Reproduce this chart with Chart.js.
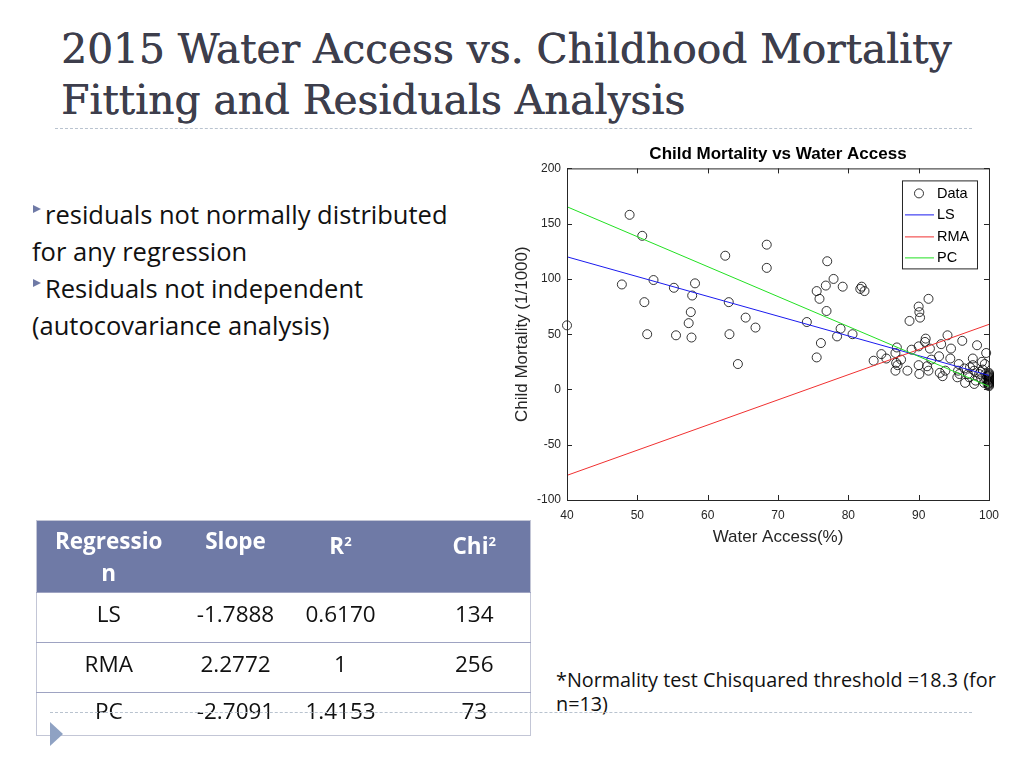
<!DOCTYPE html>
<html>
<head>
<meta charset="utf-8">
<script src="https://cdn.jsdelivr.net/npm/chart.js@4/dist/chart.umd.min.js"></script>
<style>
  body { margin: 0; width: 1024px; height: 768px; background: #fff; position: relative; overflow: hidden; }
  .slide-title { position: absolute; left: 61px; top: 24px; margin: 0; font-family: "DejaVu Serif", serif; font-weight: normal; font-size: 40.7px; line-height: 51px; color: #3d3e4c; white-space: nowrap; text-shadow: 0.5px 0 0 #3d3e4c; }
  .rule { position: absolute; height: 0; border-top: 1px dashed #b9c3cf; }
  .bullets { position: absolute; left: 32px; top: 196px; width: 440px; font-family: "Open Sans", "Noto Sans", sans-serif; font-size: 25.5px; line-height: 37px; color: #111; }
  .bullets p { margin: 0; }
  .bullets p::before { content: ""; display: inline-block; width: 0; height: 0; border-left: 8px solid #6f7aa6; border-top: 4.5px solid transparent; border-bottom: 4.5px solid transparent; vertical-align: 11px; margin: 0 4px 0 1px; }
  #chartBox { position: absolute; left: 505px; top: 140px; width: 502px; height: 420px; }
  table { position: absolute; left: 36px; top: 520px; width: 494px; table-layout: fixed; border-collapse: collapse; font-family: "Open Sans", "Noto Sans", sans-serif; font-size: 22.5px; border: 1px solid #c3c6d6; }
  th, td { box-sizing: border-box; }
  th { background: #6f7aa6; color: #fff; font-weight: bold; vertical-align: top; line-height: 32px; padding: 4px 0 3px 0; height: 72px; }
  td { text-align: center; color: #111; border-top: 1px solid #9ea3c2; padding: 0 0 8px 0; }
  sup { font-size: 13px; vertical-align: 8px; }
  .note { position: absolute; left: 556px; top: 668px; font-family: "Open Sans", "Noto Sans", sans-serif; font-size: 19.8px; line-height: 24px; color: #111; white-space: nowrap; }
  .arrow { position: absolute; left: 50px; top: 722px; width: 0; height: 0; border-left: 13px solid #8fa2c3; border-top: 12px solid transparent; border-bottom: 12px solid transparent; }
</style>
</head>
<body>
<h1 class="slide-title">2015 Water Access vs. Childhood Mortality<br>Fitting and Residuals Analysis</h1>
<div class="rule" style="left:55px; top:128px; width:917px;"></div>

<div class="bullets">
  <p>residuals not normally distributed for any regression</p>
  <p>Residuals not independent (autocovariance analysis)</p>
</div>

<div id="chartBox"><canvas id="fitChart" width="502" height="420"></canvas></div>

<table>
  <tr>
    <th style="width:144px;">Regressio<br>n</th>
    <th style="width:110px;">Slope</th>
    <th style="width:100px;">R<sup>2</sup></th>
    <th style="width:140px; padding-left:28px;">Chi<sup>2</sup></th>
  </tr>
  <tr style="height:50px;"><td>LS</td><td>-1.7888</td><td>0.6170</td><td style="padding-left:28px;">134</td></tr>
  <tr style="height:50px;"><td>RMA</td><td>2.2772</td><td>1</td><td style="padding-left:28px;">256</td></tr>
  <tr style="height:43px;"><td>PC</td><td>-2.7091</td><td>1.4153</td><td style="padding-left:28px;">73</td></tr>
</table>

<div class="note">*Normality test Chisquared threshold =18.3 (for<br>n=13)</div>
<div class="rule" style="left:50px; top:712px; width:922px; z-index:2;"></div>
<div class="arrow"></div>

<script>
// Data (water access %, child mortality per 1000)
const waterAccess = [
  40.0, 48.9, 50.7, 47.8, 52.3, 51.0, 51.4, 55.2, 55.5, 58.2, 57.8, 57.6, 57.3, 57.7,
  62.5, 63.0, 63.1, 64.3, 65.4, 66.8, 68.4, 68.4, 74.1, 75.5, 75.9, 75.5, 76.1, 77.0,
  76.8, 76.9, 77.9, 79.2, 78.9, 78.4, 80.6, 81.9, 81.7, 82.3, 83.6, 84.7, 85.4, 86.9,
  86.7, 86.7, 87.0, 86.8, 87.5, 88.4, 88.7, 89.0, 90.0, 90.1, 90.2, 90.0, 90.0, 90.1,
  91.4, 91.0, 90.9, 91.6, 91.8, 91.2, 91.4, 92.9, 93.2, 93.0, 93.4, 93.8, 94.1, 94.6,
  94.5, 96.2, 95.7, 95.6, 95.5, 96.6, 98.3, 97.7, 97.7, 97.9, 97.9, 99.0, 99.4, 99.6,
  99.5, 96.5, 97.0, 97.2, 98.6, 98.9, 99.1, 95.8, 97.3, 98.1, 98.8, 99.3,
  100, 100, 100, 100, 100, 100, 100, 100, 100, 100, 100, 100, 100, 99.8, 99.8, 99.8, 99.6
];
const childMortality = [
  58, 158, 139, 95, 99, 79, 50, 92, 49, 96, 85, 70, 60, 47,
  121, 79, 50, 23, 65, 56, 131, 110, 61, 89, 82, 29, 42, 116,
  94, 71, 100, 93, 55, 48, 50, 93, 91, 89, 26, 32, 28, 38,
  33, 17, 22, 24, 27, 17, 62, 36, 75, 70, 65, 39, 22, 14,
  82, 46, 43, 37, 27, 21, 17, 30, 41, 15, 12, 17, 49, 37,
  28, 44, 23, 17, 11, 6, 40, 28, 22, 17, 5, 25, 23, 33,
  14, 19, 14, 11, 14, 10, 18, 14, 20, 8, 16, 6,
  3, 4, 5, 6, 7, 8, 9, 10, 11, 12, 13, 14, 15, 5, 8, 12, 9
];

// Fitted lines, end values read at x = 40 and x = 100
const fitX = [40, 100];
const lsY = [120.0, 12.7];
const rmaY = [-77.7, 58.9];
const pcY = [165.3, 2.8];

const xTicks = [40, 50, 60, 70, 80, 90, 100];
const yTicks = [-100, -50, 0, 50, 100, 150, 200];

const axisColor = '#262626';
const chartFont = 'Liberation Sans, Arial, sans-serif';

function toPoints(xs, ys) {
  return xs.map((v, i) => ({ x: v, y: ys[i] }));
}

// MATLAB style axes box, inward ticks and legend inside the plot
const matlabBox = {
  id: 'matlabBox',
  afterDatasetsDraw(chart) {
    const { ctx, chartArea: a, scales: { x, y } } = chart;
    ctx.save();
    ctx.strokeStyle = axisColor;
    ctx.lineWidth = 1;
    ctx.strokeRect(a.left + 0.5, a.top + 0.5, a.right - a.left, a.bottom - a.top);
    ctx.beginPath();
    x.ticks.forEach(t => {
      const px = Math.round(x.getPixelForValue(t.value)) + 0.5;
      ctx.moveTo(px, a.bottom); ctx.lineTo(px, a.bottom - 5);
      ctx.moveTo(px, a.top); ctx.lineTo(px, a.top + 5);
    });
    y.ticks.forEach(t => {
      const py = Math.round(y.getPixelForValue(t.value)) + 0.5;
      ctx.moveTo(a.left, py); ctx.lineTo(a.left + 5, py);
      ctx.moveTo(a.right, py); ctx.lineTo(a.right - 5, py);
    });
    ctx.stroke();

    // legend box
    const bx = a.right - 87, by = a.top + 12, bw = 75, bh = 88;
    ctx.fillStyle = '#fff';
    ctx.fillRect(bx, by, bw, bh);
    ctx.strokeRect(bx + 0.5, by + 0.5, bw, bh);
    ctx.font = '14.5px ' + chartFont;
    ctx.textBaseline = 'middle';
    const rows = [13, 34, 56, 77];
    chart.data.datasets.forEach((ds, i) => {
      const ry = by + rows[i];
      if (ds.type === 'scatter') {
        ctx.beginPath();
        ctx.lineWidth = 0.8;
        ctx.strokeStyle = '#000';
        ctx.arc(bx + 17, ry, 4.5, 0, Math.PI * 2);
        ctx.stroke();
      } else {
        ctx.beginPath();
        ctx.lineWidth = 1;
        ctx.strokeStyle = ds.borderColor;
        ctx.moveTo(bx + 3, ry + 0.5);
        ctx.lineTo(bx + 32, ry + 0.5);
        ctx.stroke();
      }
      ctx.fillStyle = '#000';
      ctx.fillText(ds.label, bx + 35, ry + 1);
    });
    ctx.restore();
  }
};

new Chart(document.getElementById('fitChart'), {
  data: {
    datasets: [
      {
        type: 'scatter', label: 'Data', order: 4, clip: false,
        data: toPoints(waterAccess, childMortality),
        pointStyle: 'circle', pointRadius: 4.5, pointBorderWidth: 0.8,
        borderColor: '#000', backgroundColor: 'rgba(0,0,0,0)'
      },
      {
        type: 'line', label: 'LS', order: 3, data: toPoints(fitX, lsY),
        borderColor: '#1a1aee', borderWidth: 1, pointRadius: 0
      },
      {
        type: 'line', label: 'RMA', order: 2, data: toPoints(fitX, rmaY),
        borderColor: '#f03030', borderWidth: 1, pointRadius: 0
      },
      {
        type: 'line', label: 'PC', order: 1, data: toPoints(fitX, pcY),
        borderColor: '#22e022', borderWidth: 1, pointRadius: 0
      }
    ]
  },
  options: {
    responsive: false,
    animation: false,
    layout: { padding: { left: 0, right: 13, top: 0, bottom: 0 } },
    plugins: {
      legend: { display: false },
      tooltip: { enabled: false },
      title: {
        display: true, fullSize: false,
        text: 'Child Mortality vs Water Access',
        color: '#000',
        font: { family: chartFont, size: 17, weight: 'bold' },
        padding: { top: 4, bottom: 4 }
      }
    },
    scales: {
      x: {
        type: 'linear', min: 40, max: 100,
        afterBuildTicks: s => { s.ticks = xTicks.map(v => ({ value: v })); },
        afterFit: s => { s.height = 60; },
        grid: { display: false, drawTicks: false },
        border: { display: false },
        ticks: { color: axisColor, padding: 8, font: { family: chartFont, size: 12 } },
        title: {
          display: true, text: 'Water Access(%)', color: axisColor,
          font: { family: chartFont, size: 17 }, padding: { top: 0, bottom: 12 }
        }
      },
      y: {
        type: 'linear', min: -100, max: 200,
        afterBuildTicks: s => { s.ticks = yTicks.map(v => ({ value: v })); },
        afterFit: s => { s.width = 62; },
        grid: { display: false, drawTicks: false },
        border: { display: false },
        ticks: { color: axisColor, padding: 6, font: { family: chartFont, size: 12 } },
        title: {
          display: true, text: 'Child Mortality (1/1000)', color: axisColor,
          font: { family: chartFont, size: 17 }, padding: { top: 7, bottom: 0 }
        }
      }
    }
  },
  plugins: [matlabBox]
});
</script>
</body>
</html>
